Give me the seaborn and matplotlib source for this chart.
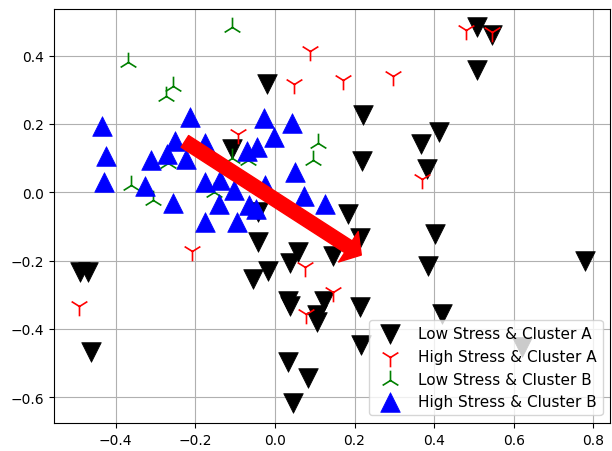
import pandas as pd
import matplotlib
matplotlib.use("Agg")
import matplotlib.pyplot as plt
import seaborn as sns

# ----------------------------
# Data
# ----------------------------
low_a_x = [0.507, 0.546, 0.507, 0.222, 0.413, 0.366, 0.219, 0.383, 0.184, 0.402,
           0.213, 0.146, 0.385, 0.779, 0.214, 0.419, 0.124, 0.107, 0.105, 0.216,
           0.620, 0.084, 0.032, 0.046, -0.042, 0.057, 0.038, -0.017, -0.056, 0.033,
           0.038, -0.490, -0.469, -0.461, -0.020, -0.107, -0.042]
low_a_y = [0.483, 0.460, 0.359, 0.227, 0.177, 0.141, 0.091, 0.068, -0.065, -0.122,
           -0.135, -0.187, -0.215, -0.200, -0.336, -0.357, -0.318, -0.360, -0.381, -0.447,
           -0.454, -0.545, -0.498, -0.618, -0.147, -0.174, -0.207, -0.232, -0.254, -0.318,
           -0.332, -0.235, -0.235, -0.469, 0.318, 0.127, -0.057]

high_a_x = [0.479, 0.546, 0.088, 0.170, 0.297, 0.369, 0.049, -0.092, -0.209, -0.492,
            0.075, 0.147, 0.077]
high_a_y = [0.476, 0.468, 0.414, 0.328, 0.340, 0.039, 0.317, 0.170, -0.171, -0.332,
            -0.220, -0.293, -0.357]

low_b_x = [-0.107, -0.369, -0.256, -0.273, -0.268, -0.362, -0.307, -0.107, -0.067, -0.153,
           0.109, 0.096]
low_b_y = [0.483, 0.382, 0.310, 0.283, 0.086, 0.021, -0.022, 0.100, 0.093, 0.002,
           0.144, 0.093]

high_b_x = [-0.433, -0.423, -0.430, -0.214, -0.252, -0.310, -0.271, -0.222, -0.327, -0.255,
            -0.176, -0.176, -0.139, -0.141, -0.102, -0.071, -0.044, -0.028, -0.003, 0.042,
            0.050, 0.072, 0.126, -0.065, -0.048, -0.024, -0.176, -0.096]
high_b_y = [0.195, 0.107, 0.030, 0.219, 0.150, 0.095, 0.112, 0.097, 0.019, -0.032,
            0.143, 0.031, 0.037, -0.034, 0.008, 0.122, 0.133, 0.217, 0.162, 0.204,
            0.058, -0.012, -0.034, -0.038, -0.050, 0.022, -0.086, -0.086]

labels = ["Low Stress & Cluster A", "High Stress & Cluster A",
          "Low Stress & Cluster B", "High Stress & Cluster B"]

arrow_start = (-0.226, 0.149)
arrow_end = (0.217, -0.184)

# ----------------------------
# Plot
# ----------------------------
fig, ax = plt.subplots(figsize=(6.12, 4.52), dpi=100)
fig.subplots_adjust(left=0.088, right=0.997, top=0.978, bottom=0.062)

groups = [
    (low_a_x, low_a_y, "v", "black"),
    (high_a_x, high_a_y, "1", "red"),
    (low_b_x, low_b_y, "2", "green"),
    (high_b_x, high_b_y, "^", "blue"),
]

for (gx, gy, mk, col), lab in zip(groups, labels):
    df = pd.DataFrame({"x": gx, "y": gy})
    if mk in ("v", "^"):
        sns.scatterplot(data=df, x="x", y="y", marker=mk, color=col,
                        edgecolor=col, linewidth=0.5, s=200, label=lab, ax=ax)
    else:
        sns.scatterplot(data=df, x="x", y="y", marker=mk, color=col,
                        linewidth=1.2, s=200, label=lab, ax=ax)

# Direction arrow
ax.annotate("", xy=arrow_end, xytext=arrow_start,
            arrowprops=dict(color="red", width=10, headwidth=26, headlength=11, shrink=0))

ax.set_xlim(-0.555, 0.842)
ax.set_ylim(-0.676, 0.537)
ax.set_xticks([-0.4, -0.2, 0.0, 0.2, 0.4, 0.6, 0.8])
ax.set_yticks([-0.6, -0.4, -0.2, 0.0, 0.2, 0.4])
ax.set_xlabel("")
ax.set_ylabel("")
ax.grid(True)
ax.set_axisbelow(True)
ax.legend(loc="lower right", fontsize=11)

fig.savefig("out.png", dpi=100)
plt.close(fig)
